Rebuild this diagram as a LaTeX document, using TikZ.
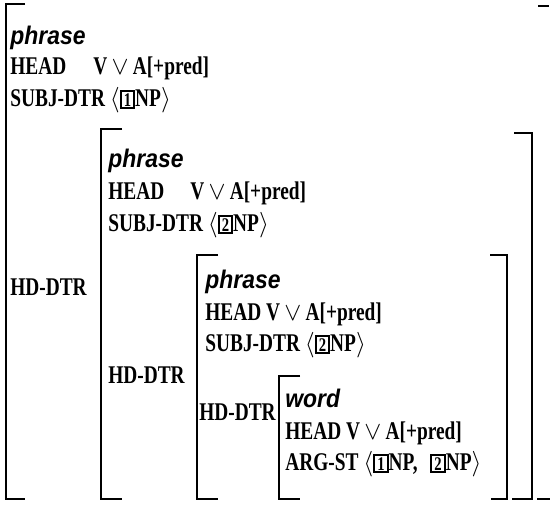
\RequirePackage{fix-cm}
\documentclass[tikz,border=0pt]{standalone}
\usepackage{fontspec}
\newfontfamily\avmfont[FakeStretch=0.76]{Liberation Serif}
\newfontfamily\typefont[FakeStretch=0.9]{Liberation Sans}
\newcommand{\tagnum}[1]{{\setlength{\fboxsep}{0.7pt}\setlength{\fboxrule}{1.2pt}\fbox{\makebox[5pt]{\fontsize{11}{11}\selectfont #1}}}}
\newcommand{\npof}[1]{\tagnum{#1}NP}
\tikzset{
  feat/.style={anchor=base west, inner sep=0pt, font=\avmfont\fontsize{14.5}{17}\selectfont\bfseries},
  type/.style={feat, font=\typefont\fontsize{14.5}{17}\selectfont\bfseries\itshape},
  brk/.style={line width=1.3pt},
}
\begin{document}
\begin{tikzpicture}[x=0.02cm, y=-0.02cm]
            \useasboundingbox (0,0) rectangle (550,505);
            % Parentesi sinistre
            \draw[brk] (25,4) -- (6,4) -- (6,499) -- (25,499);
            \draw[brk] (122,129) -- (101,129) -- (101,499) -- (122,499);
            \draw[brk] (218,255) -- (197,255) -- (197,499) -- (218,499);
            \draw[brk] (300,376) -- (279,376) -- (279,499) -- (300,499);
            % Parentesi destre
            \draw[brk] (538,6) -- (549,6);
            \draw[brk] (537,499) -- (550,499);
            \draw[brk] (514,133) -- (532,133) -- (532,499) -- (512,499);
            \draw[brk] (490,255) -- (507,255) -- (507,499) -- (491,499);
            % Esterna
            \node[type] (p1) at (10,44) {phrase};
            \node[feat] (h1) at (10,74) {HEAD};
            \node[feat] (v1) at (93,74) {V$\,\vee\,$A[+pred]};
            \node[feat] (s1) at (10,106) {SUBJ-DTR $\langle$\npof{1}$\rangle$};
            \node[feat] (d1) at (10,295) {HD-DTR};
            % Seconda
            \node[type] (p2) at (108,167) {phrase};
            \node[feat] (h2) at (108,199) {HEAD};
            \node[feat] (v2) at (190,199) {V$\,\vee\,$A[+pred]};
            \node[feat] (s2) at (108,231) {SUBJ-DTR $\langle$\npof{2}$\rangle$};
            \node[feat] (d2) at (108,383) {HD-DTR};
            % Terza
            \node[type] (p3) at (205,288) {phrase};
            \node[feat] (h3) at (205,320) {HEAD V$\,\vee\,$A[+pred]};
            \node[feat] (s3) at (205,351) {SUBJ-DTR $\langle$\npof{2}$\rangle$};
            \node[feat] (d3) at (199,420) {HD-DTR};
            % Parola
            \node[type] (w4) at (285,407) {word};
            \node[feat] (h4) at (285,439) {HEAD V$\,\vee\,$A[+pred]};
            \node[feat] (a4) at (285,470) {ARG-ST $\langle$\npof{1},\enspace\npof{2}$\rangle$};
        \end{tikzpicture}
\end{document}
